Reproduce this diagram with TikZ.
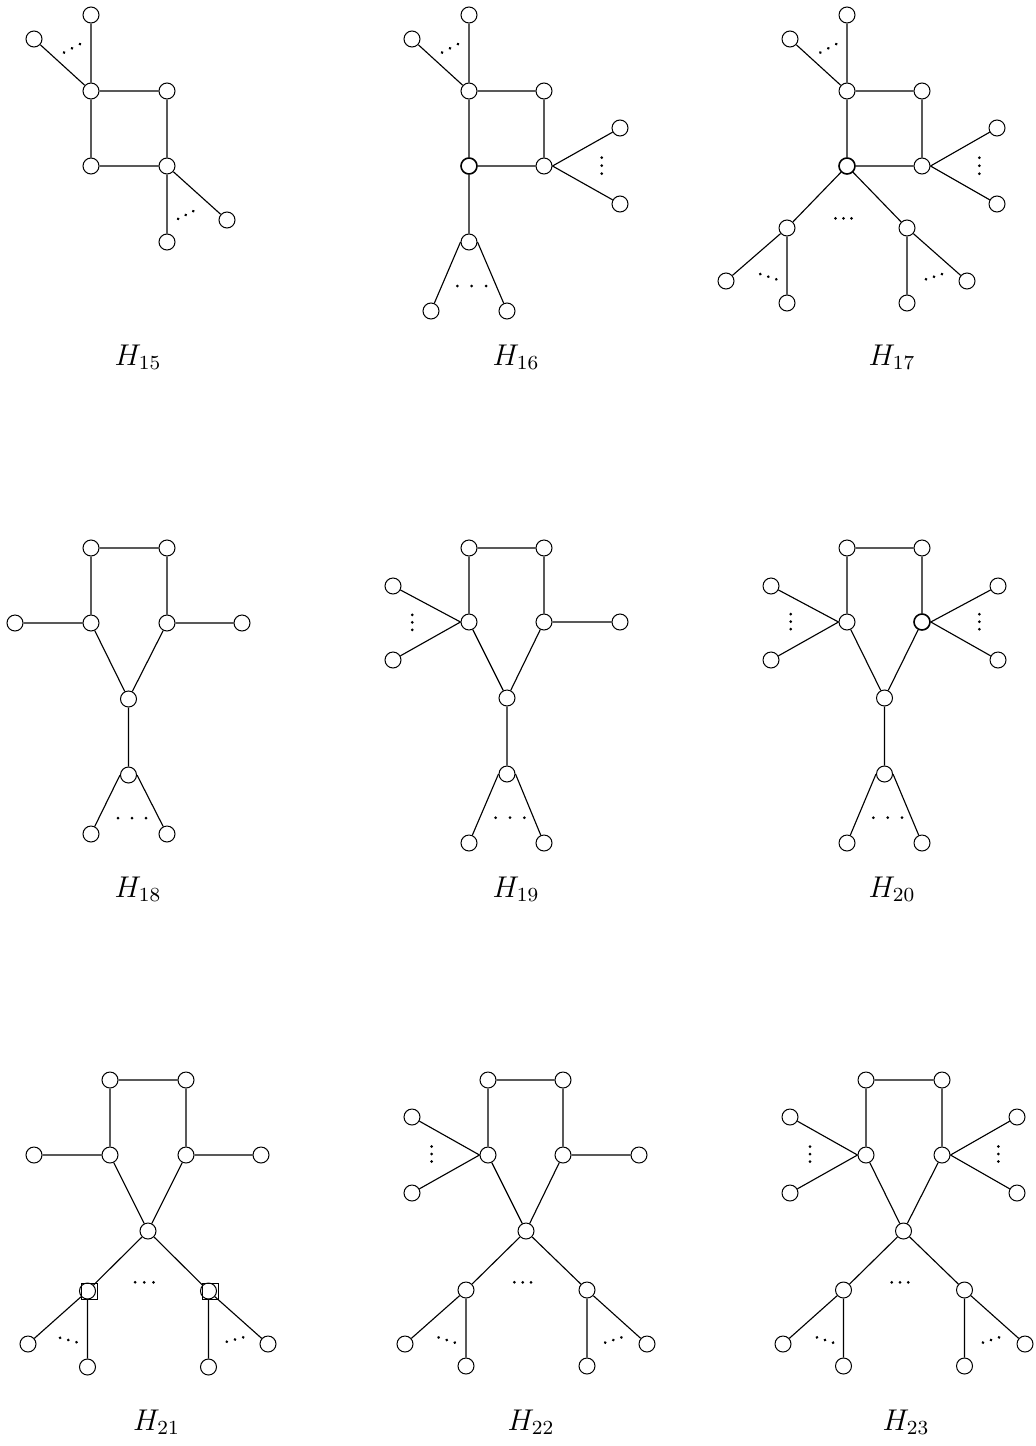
\documentclass[tikz,border=0pt]{standalone}
\tikzset{
  v/.style={circle,draw,inner sep=0pt,minimum size=6.4pt,line width=0.4pt},
  vb/.style={v,line width=0.65pt},
  sq/.style={rectangle,draw,inner sep=0pt,minimum size=6.4pt,line width=0.4pt},
  lab/.style={anchor=base,inner sep=0pt,font=\large},
}
\newcommand\tdots[3]{% center, angle, spacing
  \begin{scope}[shift={(#1)},rotate=#2]
    \fill (-#3,0) circle (0.6pt) (0,0) circle (0.6pt) (#3,0) circle (0.6pt);
  \end{scope}}
\begin{document}
\begin{tikzpicture}[x=0.4pt,y=-0.4pt,line width=0.45pt]
\useasboundingbox (0,0) rectangle (1035,1446);

% ---------------- H15 ----------------
\node[v] (a15t) at (91,15) {};
\node[v] (a15l) at (34,39) {};
\node[v] (a15A) at (91,91) {};
\node[v] (a15B) at (167,91) {};
\node[v] (a15C) at (91,166) {};
\node[v] (a15D) at (167,166) {};
\node[v] (a15b) at (167,242) {};
\node[v] (a15r) at (227,220) {};
\draw (a15t) -- (a15A) (a15l) -- (a15A) (a15A) -- (a15B) (a15A) -- (a15C)
      (a15B) -- (a15D) (a15C) -- (a15D) (a15D) -- (a15b) (a15D) -- (a15r);
\tdots{72,48.3}{28}{9}
\tdots{185.7,215}{27}{8.5}
\node[lab] (l15) at (138,365) {$H_{15}$};

% ---------------- H16 ----------------
\node[v] (a16t) at (469,15) {};
\node[v] (a16l) at (412,39) {};
\node[v] (a16A) at (469,91) {};
\node[v] (a16B) at (544,91) {};
\node[vb] (a16C) at (469,166) {};
\node[v] (a16D) at (544,166) {};
\node[v] (a16r1) at (620,128) {};
\node[v] (a16r2) at (620,204) {};
\node[v] (a16E) at (469,242) {};
\node[v] (a16L) at (431,311) {};
\node[v] (a16R) at (507,311) {};
\draw (a16t) -- (a16A) (a16l) -- (a16A) (a16A) -- (a16B) (a16A) -- (a16C)
      (a16B) -- (a16D) (a16C) -- (a16D) (a16r1) -- (a16D.east) (a16r2) -- (a16D.east)
      (a16C) -- (a16E) (a16L) -- (a16E.west) (a16R) -- (a16E.east);
\tdots{450,48.3}{28}{9}
\tdots{601.7,165.7}{90}{8}
\tdots{471.7,286}{0}{14.3}
\node[lab] (l16) at (516,365) {$H_{16}$};

% ---------------- H17 ----------------
\node[v] (a17t) at (847,15) {};
\node[v] (a17l) at (790,39) {};
\node[v] (a17A) at (847,91) {};
\node[v] (a17B) at (922,91) {};
\node[vb] (a17C) at (847,166) {};
\node[v] (a17D) at (922,166) {};
\node[v] (a17r1) at (997,128) {};
\node[v] (a17r2) at (997,204) {};
\node[v] (a17c1) at (787,228) {};
\node[v] (a17c2) at (907,228) {};
\node[v] (a17c1a) at (726,281) {};
\node[v] (a17c1b) at (787,303) {};
\node[v] (a17c2a) at (907,303) {};
\node[v] (a17c2b) at (967,281) {};
\draw (a17t) -- (a17A) (a17l) -- (a17A) (a17A) -- (a17B) (a17A) -- (a17C)
      (a17B) -- (a17D) (a17C) -- (a17D) (a17r1) -- (a17D.east) (a17r2) -- (a17D.east)
      (a17C) -- (a17c1) (a17C) -- (a17c2)
      (a17c1) -- (a17c1a) (a17c1) -- (a17c1b) (a17c2) -- (a17c2a) (a17c2) -- (a17c2b);
\tdots{828.3,48.3}{28}{9}
\tdots{979.3,165.7}{90}{8}
\tdots{843.5,218.3}{0}{8}
\tdots{768.3,276.7}{-18}{8.4}
\tdots{934,276.7}{18}{8.4}
\node[lab] (l17) at (892,365) {$H_{17}$};

% ---------------- H18 ----------------
\node[v] (a18tl) at (91,548) {};
\node[v] (a18tr) at (167,548) {};
\node[v] (a18ml) at (91,623) {};
\node[v] (a18mr) at (167,623) {};
\node[v] (a18fl) at (15,623) {};
\node[v] (a18fr) at (242,623) {};
\node[v] (a18c) at (128.5,699) {};
\node[v] (a18b) at (128.5,775) {};
\node[v] (a18L) at (91,834) {};
\node[v] (a18R) at (167,834) {};
\draw (a18tl) -- (a18tr) (a18tl) -- (a18ml) (a18tr) -- (a18mr)
      (a18fl) -- (a18ml) (a18mr) -- (a18fr) (a18ml) -- (a18c) (a18mr) -- (a18c)
      (a18c) -- (a18b) (a18L) -- (a18b.west) (a18R) -- (a18b.east);
\tdots{132,818}{0}{14}
\node[lab] (l18) at (138,897) {$H_{18}$};

% ---------------- H19 ----------------
\node[v] (a19tl) at (469,548) {};
\node[v] (a19tr) at (544,548) {};
\node[v] (a19ml) at (469,622) {};
\node[v] (a19mr) at (544,622) {};
\node[v] (a19fr) at (620,622) {};
\node[v] (a19l1) at (393,586) {};
\node[v] (a19l2) at (393,660) {};
\node[v] (a19c) at (507,698) {};
\node[v] (a19b) at (507,774) {};
\node[v] (a19L) at (469,843) {};
\node[v] (a19R) at (544,843) {};
\draw (a19tl) -- (a19tr) (a19tl) -- (a19ml) (a19tr) -- (a19mr)
      (a19l1) -- (a19ml.west) (a19l2) -- (a19ml.west) (a19mr) -- (a19fr)
      (a19ml) -- (a19c) (a19mr) -- (a19c)
      (a19c) -- (a19b) (a19L) -- (a19b.west) (a19R) -- (a19b.east);
\tdots{412.3,622.3}{90}{7.5}
\tdots{510,817.7}{0}{14.3}
\node[lab] (l19) at (516,897) {$H_{19}$};

% ---------------- H20 ----------------
\node[v] (a20tl) at (847,548) {};
\node[v] (a20tr) at (922,548) {};
\node[v] (a20ml) at (847,622) {};
\node[vb] (a20mr) at (922,622) {};
\node[v] (a20l1) at (771,586) {};
\node[v] (a20l2) at (771,660) {};
\node[v] (a20r1) at (998,586) {};
\node[v] (a20r2) at (998,660) {};
\node[v] (a20c) at (884.5,698) {};
\node[v] (a20b) at (884.5,774) {};
\node[v] (a20L) at (847,843) {};
\node[v] (a20R) at (922,843) {};
\draw (a20tl) -- (a20tr) (a20tl) -- (a20ml) (a20tr) -- (a20mr)
      (a20l1) -- (a20ml.west) (a20l2) -- (a20ml.west)
      (a20r1) -- (a20mr.east) (a20r2) -- (a20mr.east)
      (a20ml) -- (a20c) (a20mr) -- (a20c)
      (a20c) -- (a20b) (a20L) -- (a20b.west) (a20R) -- (a20b.east);
\tdots{790.7,621.7}{90}{7.5}
\tdots{979.3,621.7}{90}{7.5}
\tdots{887.7,817.7}{0}{14.3}
\node[lab] (l20) at (892,897) {$H_{20}$};

% ---------------- H21 ----------------
\node[v] (a21tl) at (110,1080) {};
\node[v] (a21tr) at (186,1080) {};
\node[v] (a21ml) at (110,1155) {};
\node[v] (a21mr) at (186,1155) {};
\node[v] (a21fl) at (34,1155) {};
\node[v] (a21fr) at (261,1155) {};
\node[v] (a21c) at (148,1231) {};
\node[sq] (a21s1) at (89.5,1291) {};
\node[sq] (a21s2) at (210.5,1291) {};
\node[v] (a21c1) at (87.5,1291) {};
\node[v] (a21c2) at (208.5,1291) {};
\node[v] (a21c1a) at (28,1344) {};
\node[v] (a21c1b) at (87.5,1367) {};
\node[v] (a21c2a) at (208.5,1367) {};
\node[v] (a21c2b) at (268,1344) {};
\draw (a21tl) -- (a21tr) (a21tl) -- (a21ml) (a21tr) -- (a21mr)
      (a21fl) -- (a21ml) (a21mr) -- (a21fr)
      (a21ml) -- (a21c) (a21mr) -- (a21c)
      (a21c) -- (a21c1) (a21c) -- (a21c2)
      (a21c1) -- (a21c1a) (a21c1) -- (a21c1b) (a21c2) -- (a21c2a) (a21c2) -- (a21c2b);
\tdots{144.3,1282.3}{0}{9.2}
\tdots{68.3,1340}{-15}{8.5}
\tdots{235,1339.5}{15}{8.5}
\node[lab] (l21) at (156.5,1430) {$H_{21}$};

% ---------------- H22 ----------------
\node[v] (a22tl) at (488,1080) {};
\node[v] (a22tr) at (563,1080) {};
\node[v] (a22ml) at (488,1155) {};
\node[v] (a22mr) at (563,1155) {};
\node[v] (a22fr) at (639,1155) {};
\node[v] (a22l1) at (412,1117) {};
\node[v] (a22l2) at (412,1193) {};
\node[v] (a22c) at (526,1231) {};
\node[v] (a22c1) at (466,1290) {};
\node[v] (a22c2) at (587,1290) {};
\node[v] (a22c1a) at (405,1344) {};
\node[v] (a22c1b) at (466,1366) {};
\node[v] (a22c2a) at (587,1366) {};
\node[v] (a22c2b) at (647,1344) {};
\draw (a22tl) -- (a22tr) (a22tl) -- (a22ml) (a22tr) -- (a22mr)
      (a22l1) -- (a22ml.west) (a22l2) -- (a22ml.west) (a22mr) -- (a22fr)
      (a22ml) -- (a22c) (a22mr) -- (a22c)
      (a22c) -- (a22c1) (a22c) -- (a22c2)
      (a22c1) -- (a22c1a) (a22c1) -- (a22c1b) (a22c2) -- (a22c2a) (a22c2) -- (a22c2b);
\tdots{431.7,1154}{90}{7.5}
\tdots{522.7,1282.3}{0}{8.3}
\tdots{446.7,1340}{-18}{8.5}
\tdots{613.3,1340}{18}{8.5}
\node[lab] (l22) at (531,1430) {$H_{22}$};

% ---------------- H23 ----------------
\node[v] (a23tl) at (866,1080) {};
\node[v] (a23tr) at (942,1080) {};
\node[v] (a23ml) at (866,1155) {};
\node[v] (a23mr) at (942,1155) {};
\node[v] (a23l1) at (790,1117) {};
\node[v] (a23l2) at (790,1193) {};
\node[v] (a23r1) at (1017,1117) {};
\node[v] (a23r2) at (1017,1193) {};
\node[v] (a23c) at (903.5,1231) {};
\node[v] (a23c1) at (843.5,1290) {};
\node[v] (a23c2) at (964.5,1290) {};
\node[v] (a23c1a) at (783,1344) {};
\node[v] (a23c1b) at (843.5,1366) {};
\node[v] (a23c2a) at (964.5,1366) {};
\node[v] (a23c2b) at (1025,1344) {};
\draw (a23tl) -- (a23tr) (a23tl) -- (a23ml) (a23tr) -- (a23mr)
      (a23l1) -- (a23ml.west) (a23l2) -- (a23ml.west)
      (a23r1) -- (a23mr.east) (a23r2) -- (a23mr.east)
      (a23ml) -- (a23c) (a23mr) -- (a23c)
      (a23c) -- (a23c1) (a23c) -- (a23c2)
      (a23c1) -- (a23c1a) (a23c1) -- (a23c1b) (a23c2) -- (a23c2a) (a23c2) -- (a23c2b);
\tdots{810,1154}{90}{7.5}
\tdots{998.3,1154}{90}{7.5}
\tdots{900,1282.3}{0}{8.3}
\tdots{825,1340}{-18}{8.5}
\tdots{991,1340}{18}{8.5}
\node[lab] (l23) at (906,1430) {$H_{23}$};
\end{tikzpicture}
\end{document}
